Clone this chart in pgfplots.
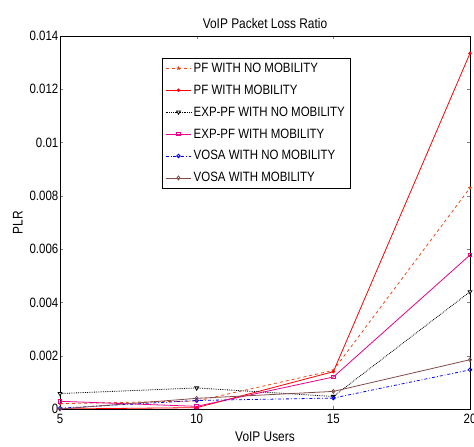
\documentclass[border=0pt]{standalone}
\usepackage{pgfplots}
\pgfplotsset{compat=1.18}
\usepackage{fontspec}
\setmainfont{Liberation Sans}[FakeStretch=0.85]
\definecolor{pforange}{RGB}{240,70,20}
\definecolor{vbrown}{RGB}{130,75,75}
\begin{document}
\begin{tikzpicture}
\begin{axis}[
  name=ax,
  scale only axis,
  width=410pt, height=373pt,
  xmin=5, xmax=20, ymin=0, ymax=0.014,
  xtick={5,10,15,20},
  ytick={0,0.002,0.004,0.006,0.008,0.01,0.012,0.014},
  scaled y ticks=false,
  yticklabel style={/pgf/number format/fixed,/pgf/number format/precision=3, inner xsep=1.5pt},
  /pgf/number format/assume math mode=true,
  tick align=inside,
  tick pos=both,
  major tick length=3pt,
  ticklabel style={font=\fontsize{13.5}{15}\selectfont},
  xticklabel style={yshift=-2pt},
  xlabel={VoIP Users}, ylabel={PLR},
  label style={font=\fontsize{14}{16}\selectfont},
  xlabel style={yshift=-1pt},
  ylabel style={yshift=2pt},
  title={VoIP Packet Loss Ratio},
  title style={font=\fontsize{14}{16}\selectfont, yshift=-2pt},
  legend style={at={(0.249,0.942)}, anchor=north west, font=\fontsize{13.5}{15}\selectfont, draw=black, row sep=7pt, inner sep=3pt},
  legend cell align=left,
  legend image code/.code={\draw[mark repeat=2,mark phase=2,#1] plot coordinates {(0cm,0cm) (0.45cm,0cm) (0.9cm,0cm)};},
  every axis plot/.append style={thick},
]
\addplot[pforange, dashed, mark=star, mark size=1.8pt, mark options={solid}] coordinates {(5,0.0002) (10,0.0003) (15,0.00145) (20,0.0083)};
\addlegendentry{PF WITH NO MOBILITY}
\addplot[red, solid, mark=*, mark size=1.3pt] coordinates {(5,0.0) (10,0.00005) (15,0.0014) (20,0.01335)};
\addlegendentry{PF WITH MOBILITY}
\addplot[black, densely dotted, mark=triangle*, mark size=2.2pt, mark options={solid, rotate=180, fill=white}] coordinates {(5,0.00058) (10,0.00079) (15,0.00047) (20,0.0044)};
\addlegendentry{EXP-PF WITH NO MOBILITY}
\addplot[magenta, solid, mark=square, mark size=1.8pt] coordinates {(5,0.00029) (10,0.0001) (15,0.0012) (20,0.00578)};
\addlegendentry{EXP-PF WITH MOBILITY}
\addplot[blue, dash dot, mark=o, mark size=1.8pt, mark options={solid}] coordinates {(5,0.00003) (10,0.00032) (15,0.00041) (20,0.00147)};
\addlegendentry{VOSA WITH NO MOBILITY}
\addplot[vbrown, solid, mark=diamond, mark size=2pt] coordinates {(5,0.0) (10,0.0004) (15,0.00066) (20,0.00185)};
\addlegendentry{VOSA WITH MOBILITY}
\end{axis}
\pgfresetboundingbox
\path ([xshift=-60pt,yshift=-38pt]ax.south west) rectangle ([xshift=4pt,yshift=36pt]ax.north east);
\end{tikzpicture}
\end{document}
